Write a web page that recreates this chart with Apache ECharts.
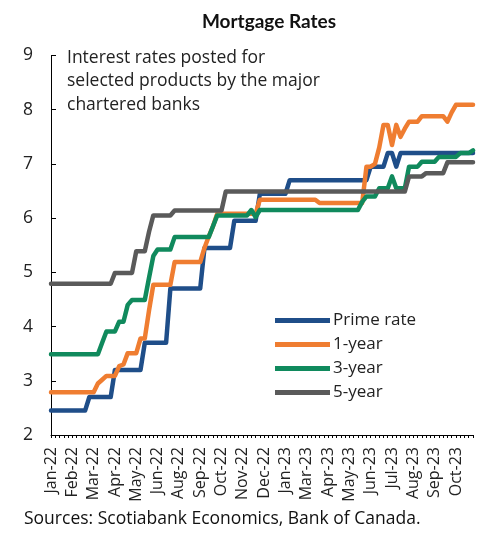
<!DOCTYPE html>
<html>
<head>
<meta charset="utf-8">
<script src="https://cdn.jsdelivr.net/npm/echarts@6/dist/echarts.min.js"></script>
<style>
html,body{margin:0;padding:0;background:#fff;}
#c{width:492px;height:534px;}
</style>
</head>
<body>
<div id="c"></div>
<script>
// Weekly observations (100 weeks, Jan-22 .. late Oct/Nov-23)
var tickLabels = ['Jan-22','Feb-22','Mar-22','Apr-22','May-22','Jun-22','Aug-22','Sep-22','Oct-22','Nov-22','Dec-22','Jan-23','Mar-23','Apr-23','May-23','Jun-23','Jul-23','Aug-23','Sep-23','Oct-23'];
var weeksPerLabel = 5;
var seriesNames = ['Prime rate','1-year','3-year','5-year'];

var primeRate = [
2.45,2.45,2.45,2.45,2.45,2.45,2.45,2.45,2.45,
2.70,2.70,2.70,2.70,2.70,2.70,
3.20,3.20,3.20,3.20,3.20,3.20,3.20,
3.70,3.70,3.70,3.70,3.70,3.70,
4.70,4.70,4.70,4.70,4.70,4.70,4.70,4.70,
5.45,5.45,5.45,5.45,5.45,5.45,5.45,
5.95,5.95,5.95,5.95,5.95,5.95,
6.45,6.45,6.45,6.45,6.45,6.45,6.45,
6.70,6.70,6.70,6.70,6.70,6.70,6.70,6.70,6.70,6.70,6.70,6.70,6.70,6.70,6.70,6.70,6.70,6.70,6.70,
6.95,6.95,6.95,6.95,
7.20,7.20,
6.95,
7.20,7.20,7.20,7.20,7.20,7.20,7.20,7.20,7.20,7.20,7.20,7.20,7.20,7.20,7.20,7.20,7.20,7.20
];

var oneYear = [
2.79,2.79,2.79,2.79,2.79,2.79,2.79,2.79,2.79,2.79,2.79,
2.95,3.02,3.09,3.09,3.09,
3.27,3.30,
3.51,3.51,3.51,
3.78,3.78,
4.30,
4.77,4.77,4.77,4.77,4.77,
5.19,5.19,5.19,5.19,5.19,5.19,5.19,
5.45,5.66,5.85,
6.08,6.08,6.08,6.08,6.08,6.08,6.08,6.08,6.08,6.08,
6.34,6.34,6.34,6.34,6.34,6.34,6.34,6.34,6.34,6.34,6.34,6.34,6.34,6.34,
6.28,6.28,6.28,6.28,6.28,6.28,6.28,6.28,6.28,6.28,6.28,
6.95,6.95,7.00,7.30,7.72,7.72,7.35,7.72,7.50,7.65,
7.78,7.78,7.78,
7.88,7.88,7.88,7.88,7.88,7.88,
7.78,7.95,
8.09,8.09,8.09,8.09,8.09
];

var threeYear = [
3.49,3.49,3.49,3.49,3.49,3.49,3.49,3.49,3.49,3.49,3.49,3.49,
3.70,
3.91,3.91,3.91,
4.09,4.09,
4.40,
4.49,4.49,4.49,4.49,
4.90,5.30,
5.42,5.42,5.42,5.42,
5.65,5.65,5.65,5.65,5.65,5.65,5.65,5.65,5.65,
5.85,
6.05,6.05,6.05,6.05,6.05,6.05,6.05,6.05,
6.15,6.02,
6.15,6.15,6.15,6.15,6.15,6.15,6.15,6.15,6.15,6.15,6.15,6.15,6.15,6.15,6.15,6.15,6.15,6.15,6.15,6.15,6.15,6.15,6.15,6.15,
6.30,
6.40,6.40,6.40,
6.55,6.55,6.55,
6.77,
6.55,6.55,6.55,
6.95,6.95,6.95,
7.04,7.04,7.04,7.04,
7.13,7.13,7.13,7.13,7.13,
7.20,7.20,7.20,
7.25
];

var fiveYear = [
4.79,4.79,4.79,4.79,4.79,4.79,4.79,4.79,4.79,4.79,4.79,4.79,4.79,4.79,4.79,
4.99,4.99,4.99,4.99,4.99,
5.39,5.39,5.39,
5.75,
6.05,6.05,6.05,6.05,6.05,
6.14,6.14,6.14,6.14,6.14,6.14,6.14,6.14,6.14,6.14,6.14,6.14,
6.49,6.49,6.49,6.49,6.49,6.49,6.49,6.49,6.49,6.49,6.49,6.49,6.49,6.49,6.49,6.49,6.49,6.49,6.49,6.49,6.49,6.49,6.49,6.49,6.49,6.49,6.49,6.49,6.49,6.49,6.49,6.49,6.49,6.49,6.49,6.49,6.49,6.49,6.49,6.49,6.49,6.49,6.49,
6.77,6.77,6.77,6.77,
6.83,6.83,6.83,6.83,6.83,
7.03,7.03,7.03,7.03,7.03,7.03,7.03
];

var colors = ['#1f4e89','#ef7d31','#108a5d','#5a5a5a'];
var FONT = '"Open Sans", "Noto Sans", sans-serif';

var weeks = primeRate.map(function(_, i){ return 'w' + i; });

var chart = echarts.init(document.getElementById('c'), null, {renderer:'canvas'});

function mk(name, data, color){
  return {
    name: name, type: 'line', data: data, showSymbol: false, symbol: 'none',
    lineStyle: {width: 4.5, color: color, cap: 'round', join: 'round'},
    itemStyle: {color: color},
    animation: false
  };
}

chart.setOption({
  animation: false,
  color: colors,
  textStyle: {fontFamily: FONT},
  title: {
    text: 'Mortgage Rates',
    left: 264, top: 7, textAlign: 'center',
    textStyle: {fontFamily: 'Lato, "Open Sans", sans-serif', fontSize: 19, fontWeight: 'bold', color: '#111'}
  },
  grid: {left: 51, right: 19, top: 55.5, bottom: 99, containLabel: false},
  legend: {
    orient: 'vertical', left: 275, top: 312, padding: 0,
    itemWidth: 55, itemHeight: 5, itemGap: 7,
    icon: 'rect',
    data: seriesNames,
    textStyle: {fontFamily: FONT, fontSize: 17, color: '#222', padding: [0,0,0,-2]}
  },
  xAxis: {
    type: 'category', boundaryGap: false, data: weeks,
    axisLine: {show: true, lineStyle: {color: '#000', width: 1}},
    axisTick: {show: true, interval: 0, length: 3, lineStyle: {color: '#000'}},
    axisLabel: {
      interval: weeksPerLabel - 1, rotate: 90, margin: 12,
      fontFamily: FONT, fontSize: 16, color: '#222',
      formatter: function(v, idx){ return idx % weeksPerLabel === 0 ? (tickLabels[idx / weeksPerLabel] || '') : ''; }
    },
    splitLine: {show: false}
  },
  yAxis: {
    type: 'value', min: 2, max: 9, interval: 1,
    axisLine: {show: true, lineStyle: {color: '#000', width: 1}},
    axisTick: {show: true, inside: true, length: 5, lineStyle: {color: '#000'}},
    axisLabel: {fontFamily: FONT, fontSize: 17.5, color: '#222', margin: 18},
    splitLine: {show: false}
  },
  graphic: [
    {type: 'text', left: 67, top: 46, style: {text: 'Interest rates posted for\nselected products by the major\nchartered banks', font: '17.5px ' + FONT, fill: '#222', lineHeight: 23.5}},
    {type: 'text', left: 24, top: 510, style: {text: 'Sources: Scotiabank Economics, Bank of Canada.', font: '17.5px ' + FONT, fill: '#111'}}
  ],
  series: [
    mk(seriesNames[0], primeRate, colors[0]),
    mk(seriesNames[1], oneYear, colors[1]),
    mk(seriesNames[2], threeYear, colors[2]),
    mk(seriesNames[3], fiveYear, colors[3])
  ]
});
</script>
</body>
</html>
